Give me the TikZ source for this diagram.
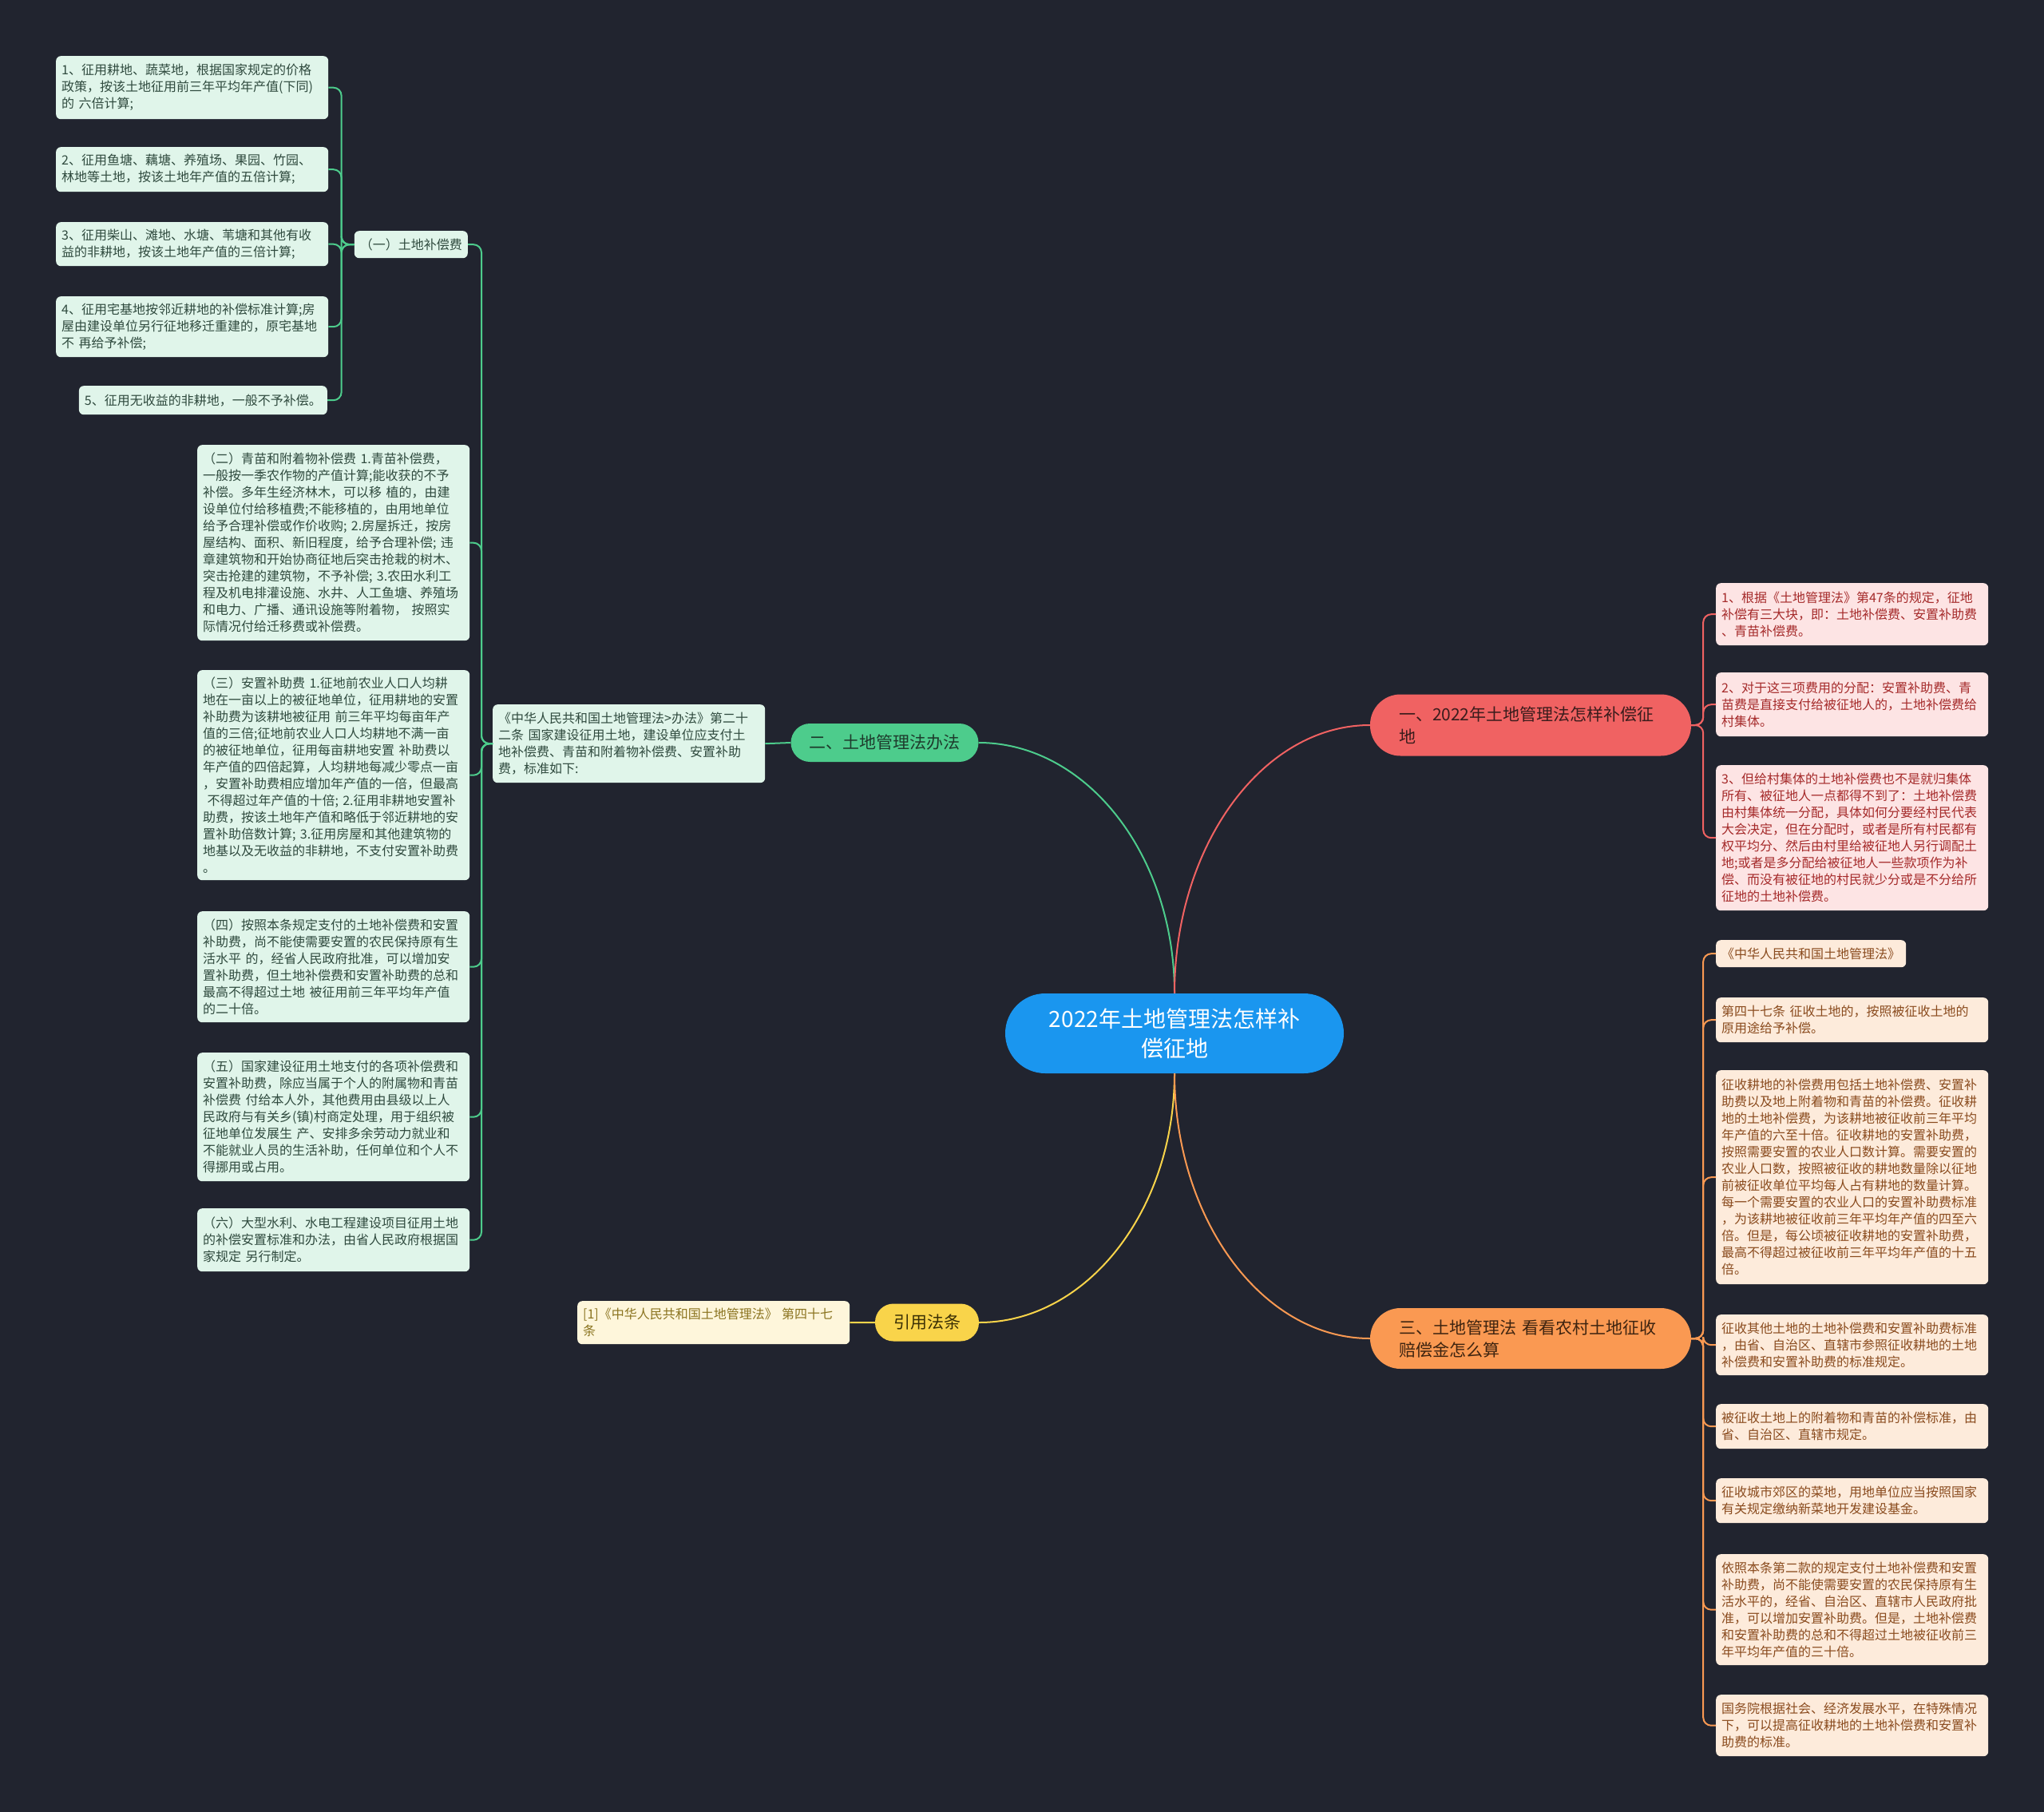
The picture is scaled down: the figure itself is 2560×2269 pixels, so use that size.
\documentclass[tikz,border=0pt]{standalone}
\usepackage{fontspec}
\setmainfont{Noto Sans CJK SC}
\definecolor{bgC}{HTML}{21242F}
\definecolor{centerC}{HTML}{1A96EF}
\definecolor{redC}{HTML}{F06262}
\definecolor{orangeC}{HTML}{FA9952}
\definecolor{greenC}{HTML}{4DCC8C}
\definecolor{yellowC}{HTML}{F9D44A}
\definecolor{gFill}{HTML}{E0F5EA}
\definecolor{rFill}{HTML}{FDE4E4}
\definecolor{oFill}{HTML}{FDEBDB}
\definecolor{yFill}{HTML}{FEF6DB}
\definecolor{gText}{HTML}{2F4A3E}
\definecolor{rText}{HTML}{A52A2A}
\definecolor{oText}{HTML}{8A4B1E}
\definecolor{yText}{HTML}{8B7420}
\definecolor{b1Text}{HTML}{3A1C1C}
\definecolor{b2Text}{HTML}{1E3B2C}
\definecolor{b3Text}{HTML}{3E2410}
\definecolor{b4Text}{HTML}{3A2F05}
\begin{document}
\begin{tikzpicture}[x=1pt,y=-1pt,
  leaf/.style={rounded corners=6pt, inner xsep=7pt, inner ysep=0pt, anchor=north west,
    font=\fontsize{16}{21}\selectfont, align=left},
  wide/.style={text width=327pt},
  gl/.style={leaf, fill=gFill, text=gText},
  rl/.style={leaf, fill=rFill, text=rText},
  ol/.style={leaf, fill=oFill, text=oText},
  yl/.style={leaf, fill=yFill, text=yText},
  branch/.style={anchor=center, font=\fontsize{21}{28}\selectfont, inner sep=0pt},
  conn/.style={line width=2pt, rounded corners=10pt},
  gconn/.style={conn, draw=greenC},
  rconn/.style={conn, draw=redC},
  oconn/.style={conn, draw=orangeC},
  yconn/.style={conn, draw=yellowC}
]
\fill[bgC] (0,0) rectangle (2560,2269);
\useasboundingbox (0,0) rectangle (2560,2269);

% center
\node[anchor=center, fill=centerC, text=white, rounded corners=50pt, minimum width=424pt,
  minimum height=100pt, align=center, font=\fontsize{28}{37}\selectfont, inner sep=0pt]
  (c) at (1471,1294) {2022年土地管理法怎样补\\偿征地};

% branches
\node[branch, fill=redC, text=b1Text, rounded corners=38pt, minimum width=402pt, minimum height=77pt,
  text width=330pt, align=left] (b1) at (1917,908) {一、2022年土地管理法怎样补偿征\\地};
\node[branch, fill=orangeC, text=b3Text, rounded corners=38pt, minimum width=402pt, minimum height=76pt,
  text width=330pt, align=left] (b3) at (1917,1676) {三、土地管理法 看看农村土地征收\\赔偿金怎么算};
\node[branch, fill=greenC, text=b2Text, rounded corners=24pt, minimum width=235pt, minimum height=48pt]
  (b2) at (1108,930) {二、土地管理法办法};
\node[branch, fill=yellowC, text=b4Text, rounded corners=23pt, minimum width=130pt, minimum height=47pt]
  (b4) at (1161,1656) {引用法条};

% green side
\node[gl, wide, minimum height=98pt] (desc) at (617,882) {《中华人民共和国土地管理法>办法》第二十\\二条 国家建设征用土地，建设单位应支付土\\地补偿费、青苗和附着物补偿费、安置补助\\费，标准如下:};
\node[gl, anchor=north east, minimum height=34pt] (g1) at (586,289) {（一）土地补偿费};
\node[gl, wide, minimum height=245pt] (g2) at (247,557) {（二）青苗和附着物补偿费 1.青苗补偿费，\\一般按一季农作物的产值计算;能收获的不予\\补偿。多年生经济林木，可以移 植的，由建\\设单位付给移植费;不能移植的，由用地单位\\给予合理补偿或作价收购; 2.房屋拆迁，按房\\屋结构、面积、新旧程度，给予合理补偿; 违\\章建筑物和开始协商征地后突击抢栽的树木、\\突击抢建的建筑物，不予补偿; 3.农田水利工\\程及机电排灌设施、水井、人工鱼塘、养殖场\\和电力、广播、通讯设施等附着物， 按照实\\际情况付给迁移费或补偿费。};
\node[gl, wide, minimum height=263pt] (g3) at (247,839) {（三）安置补助费 1.征地前农业人口人均耕\\地在一亩以上的被征地单位，征用耕地的安置\\补助费为该耕地被征用 前三年平均每亩年产\\值的三倍;征地前农业人口人均耕地不满一亩\\的被征地单位，征用每亩耕地安置 补助费以\\年产值的四倍起算，人均耕地每减少零点一亩\\，安置补助费相应增加年产值的一倍，但最高\\\ 不得超过年产值的十倍; 2.征用非耕地安置补\\助费，按该土地年产值和略低于邻近耕地的安\\置补助倍数计算; 3.征用房屋和其他建筑物的\\地基以及无收益的非耕地，不支付安置补助费\\。};
\node[gl, wide, minimum height=139pt] (g4) at (247,1141) {（四）按照本条规定支付的土地补偿费和安置\\补助费，尚不能使需要安置的农民保持原有生\\活水平 的，经省人民政府批准，可以增加安\\置补助费，但土地补偿费和安置补助费的总和\\最高不得超过土地 被征用前三年平均年产值\\的二十倍。};
\node[gl, wide, minimum height=161pt] (g5) at (247,1318) {（五）国家建设征用土地支付的各项补偿费和\\安置补助费，除应当属于个人的附属物和青苗\\补偿费 付给本人外，其他费用由县级以上人\\民政府与有关乡(镇)村商定处理，用于组织被\\征地单位发展生 产、安排多余劳动力就业和\\不能就业人员的生活补助，任何单位和个人不\\得挪用或占用。};
\node[gl, wide, minimum height=79pt] (g6) at (247,1513) {（六）大型水利、水电工程建设项目征用土地\\的补偿安置标准和办法，由省人民政府根据国\\家规定 另行制定。};

\node[gl, wide, minimum height=79pt] (l1) at (70,70) {1、征用耕地、蔬菜地，根据国家规定的价格\\政策，按该土地征用前三年平均年产值(下同)\\的 六倍计算;};
\node[gl, wide, minimum height=56pt] (l2) at (70,184) {2、征用鱼塘、藕塘、养殖场、果园、竹园、\\林地等土地，按该土地年产值的五倍计算;};
\node[gl, wide, minimum height=55pt] (l3) at (70,278) {3、征用柴山、滩地、水塘、苇塘和其他有收\\益的非耕地，按该土地年产值的三倍计算;};
\node[gl, wide, minimum height=76pt] (l4) at (70,371) {4、征用宅基地按邻近耕地的补偿标准计算;房\\屋由建设单位另行征地移迁重建的，原宅基地\\不 再给予补偿;};
\node[gl, anchor=north east, minimum height=36pt] (l5) at (410,483) {5、征用无收益的非耕地，一般不予补偿。};

% yellow side
\node[yl, wide, minimum height=54pt] (y1) at (723,1629) {[1]《中华人民共和国土地管理法》 第四十七\\条};

% red side
\node[rl, wide, minimum height=78pt] (r1) at (2149,730) {1、根据《土地管理法》第47条的规定，征地\\补偿有三大块，即：土地补偿费、安置补助费\\、青苗补偿费。};
\node[rl, wide, minimum height=80pt] (r2) at (2149,842) {2、对于这三项费用的分配：安置补助费、青\\苗费是直接支付给被征地人的，土地补偿费给\\村集体。};
\node[rl, wide, minimum height=182pt] (r3) at (2149,958) {3、但给村集体的土地补偿费也不是就归集体\\所有、被征地人一点都得不到了：土地补偿费\\由村集体统一分配，具体如何分要经村民代表\\大会决定，但在分配时，或者是所有村民都有\\权平均分、然后由村里给被征地人另行调配土\\地;或者是多分配给被征地人一些款项作为补\\偿、而没有被征地的村民就少分或是不分给所\\征地的土地补偿费。};

% orange side
\node[ol, minimum height=34pt] (o1) at (2149,1177) {《中华人民共和国土地管理法》};
\node[ol, wide, minimum height=56pt] (o2) at (2149,1249) {第四十七条 征收土地的，按照被征收土地的\\原用途给予补偿。};
\node[ol, wide, minimum height=268pt] (o3) at (2149,1340) {征收耕地的补偿费用包括土地补偿费、安置补\\助费以及地上附着物和青苗的补偿费。征收耕\\地的土地补偿费，为该耕地被征收前三年平均\\年产值的六至十倍。征收耕地的安置补助费，\\按照需要安置的农业人口数计算。需要安置的\\农业人口数，按照被征收的耕地数量除以征地\\前被征收单位平均每人占有耕地的数量计算。\\每一个需要安置的农业人口的安置补助费标准\\，为该耕地被征收前三年平均年产值的四至六\\倍。但是，每公顷被征收耕地的安置补助费，\\最高不得超过被征收前三年平均年产值的十五\\倍。};
\node[ol, wide, minimum height=76pt] (o4) at (2149,1646) {征收其他土地的土地补偿费和安置补助费标准\\，由省、自治区、直辖市参照征收耕地的土地\\补偿费和安置补助费的标准规定。};
\node[ol, wide, minimum height=56pt] (o5) at (2149,1758) {被征收土地上的附着物和青苗的补偿标准，由\\省、自治区、直辖市规定。};
\node[ol, wide, minimum height=56pt] (o6) at (2149,1851) {征收城市郊区的菜地，用地单位应当按照国家\\有关规定缴纳新菜地开发建设基金。};
\node[ol, wide, minimum height=139pt] (o7) at (2149,1946) {依照本条第二款的规定支付土地补偿费和安置\\补助费，尚不能使需要安置的农民保持原有生\\活水平的，经省、自治区、直辖市人民政府批\\准，可以增加安置补助费。但是，土地补偿费\\和安置补助费的总和不得超过土地被征收前三\\年平均年产值的三十倍。};
\node[ol, wide, minimum height=77pt] (o8) at (2149,2122) {国务院根据社会、经济发展水平，在特殊情况\\下，可以提高征收耕地的土地补偿费和安置补\\助费的标准。};

% center connectors
\draw[line width=2pt, draw=greenC] (c.north) .. controls (1471,1071) and (1361,930) .. (b2.east);
\draw[line width=2pt, draw=redC] (c.north) .. controls (1471,1059) and (1581,908) .. (b1.west);
\draw[line width=2pt, draw=yellowC] (c.south) .. controls (1471,1516) and (1361,1656) .. (b4.east);
\draw[line width=2pt, draw=orangeC] (c.south) .. controls (1471,1527) and (1581,1676) .. (b3.west);

% green connectors
\draw[gconn] (b2.west) -- (desc.east);
\foreach \n in {g1,g2,g3,g4,g5,g6}
  \draw[gconn] (desc.west) -- ([xshift=-14pt]desc.west) |- (\n.east);
\foreach \n in {l1,l2,l3,l4,l5}
  \draw[gconn] (g1.west) -- ([xshift=-16pt]g1.west) |- (\n.east);

% yellow connector
\draw[yconn] (b4.west) -- (y1.east);

% red connectors
\foreach \n in {r1,r2,r3}
  \draw[rconn] (b1.east) -- ([xshift=15pt]b1.east) |- (\n.west);

% orange connectors
\foreach \n in {o1,o2,o3,o4,o5,o6,o7,o8}
  \draw[oconn] (b3.east) -- ([xshift=15pt]b3.east) |- (\n.west);
\end{tikzpicture}
\end{document}
